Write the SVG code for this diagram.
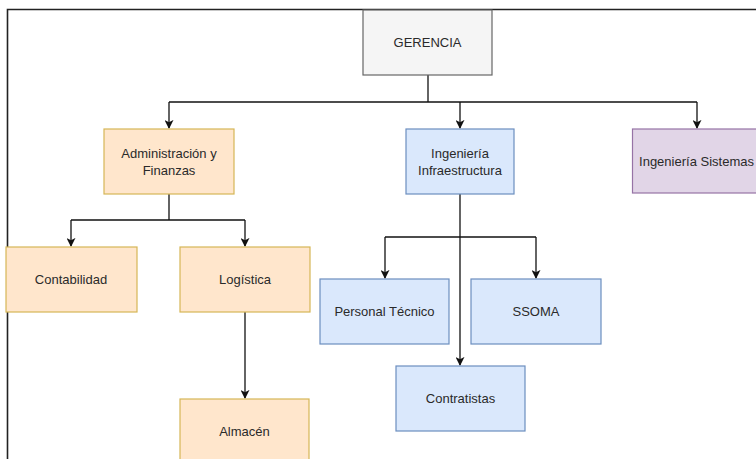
<svg xmlns="http://www.w3.org/2000/svg" width="756" height="459" viewBox="0 0 756 459">
  <style>
    .node rect { stroke-width: 1.2; }
    .gray rect { fill: #f5f5f5; stroke: #666666; }
    .orange rect { fill: #ffe6cc; stroke: #d6b656; }
    .blue rect { fill: #dae8fc; stroke: #6c8ebf; }
    .purple rect { fill: #e1d5e7; stroke: #9673a6; }
    .node text { font-family: "Liberation Sans", Arial, sans-serif; font-size: 13px; fill: #2a2a2a; text-anchor: middle; dominant-baseline: central; }
    .edge { fill: none; stroke: #111111; stroke-width: 1.3; marker-end: url(#arrow); }
    .line { fill: none; stroke: #111111; stroke-width: 1.3; }
  </style>
  <defs>
    <marker id="arrow" viewBox="0 0 10 10" refX="9" refY="5" markerWidth="9" markerHeight="9" markerUnits="userSpaceOnUse" orient="auto">
      <path d="M0,0 L10,5 L0,10 L2.5,5 Z" fill="#111111"/>
    </marker>
  </defs>

  <rect width="756" height="459" fill="#ffffff"/>
  <!-- page frame -->
  <path d="M7.5,459 V9.5 H756" fill="none" stroke="#222222" stroke-width="1.6"/>

  <g id="connectors">
    <!-- Gerencia to its three areas -->
    <path class="line" d="M428,75 V102"/>
    <path class="line" d="M169,102 H697"/>
    <path class="edge" d="M169,102 V128"/>
    <path class="edge" d="M460,102 V128"/>
    <path class="edge" d="M697,102 V128"/>
    <!-- Administración y Finanzas -->
    <path class="line" d="M169,194 V220 M71,220 H245"/>
    <path class="edge" d="M71,220 V246"/>
    <path class="edge" d="M245,220 V246"/>
    <path class="edge" d="M245,312 V398"/>
    <!-- Ingeniería Infraestructura -->
    <path class="line" d="M385,237 H536"/>
    <path class="edge" d="M385,237 V278"/>
    <path class="edge" d="M536,237 V278"/>
    <path class="edge" d="M460,194 V365"/>
  </g>

  <g id="gerencia" class="node gray">
    <rect x="363" y="10" width="129" height="65"/>
    <text x="427.5" y="42.5">GERENCIA</text>
  </g>
  <g id="administracion" class="node orange">
    <rect x="104" y="129" width="130" height="65"/>
    <text x="169" y="153">Administración y</text>
    <text x="169" y="170">Finanzas</text>
  </g>
  <g id="infraestructura" class="node blue">
    <rect x="406" y="129" width="108" height="65"/>
    <text x="460" y="153">Ingeniería</text>
    <text x="460" y="170">Infraestructura</text>
  </g>
  <g id="sistemas" class="node purple">
    <rect x="632.5" y="129" width="130" height="64"/>
    <text x="696.5" y="161">Ingeniería Sistemas</text>
  </g>
  <g id="contabilidad" class="node orange">
    <rect x="6" y="247" width="131" height="65"/>
    <text x="71" y="279.5">Contabilidad</text>
  </g>
  <g id="logistica" class="node orange">
    <rect x="180" y="247" width="130" height="65"/>
    <text x="245" y="279.5">Logística</text>
  </g>
  <g id="almacen" class="node orange">
    <rect x="180" y="399" width="129" height="70"/>
    <text x="244.5" y="431">Almacén</text>
  </g>
  <g id="personal-tecnico" class="node blue">
    <rect x="320" y="279" width="129" height="65"/>
    <text x="384.5" y="311.5">Personal Técnico</text>
  </g>
  <g id="ssoma" class="node blue">
    <rect x="471" y="279" width="130" height="65"/>
    <text x="536" y="311.5">SSOMA</text>
  </g>
  <g id="contratistas" class="node blue">
    <rect x="396" y="366" width="129" height="65"/>
    <text x="460.5" y="398.5">Contratistas</text>
  </g>
</svg>
